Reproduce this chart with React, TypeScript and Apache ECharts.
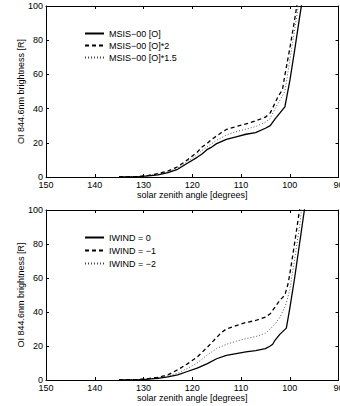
import React, { useEffect, useRef } from "react";
import * as echarts from "echarts";

const X_TICKS = { min: 90, max: 150, interval: 10 };
const Y_TICKS = { min: 0, max: 100, interval: 20 };

const topNames = ["MSIS−00 [O]", "MSIS−00 [O]*2", "MSIS−00 [O]*1.5"];
const bottomNames = ["IWIND = 0", "IWIND = −1", "IWIND = −2"];

// top panel: [solar zenith angle, brightness]
const topSolid: [number, number][] = [
  [135, 0], [131, 0.2], [129, 0.6], [127, 1.3], [125, 2.5], [123, 4.5], [121, 8], [119, 11.5],
  [118, 13.5], [117, 16], [116, 17.5], [115, 19.5], [113, 22], [111, 23.5], [109, 25], [107, 26],
  [105, 28.5], [104, 30], [103, 34], [102, 37.5], [101, 41], [100, 56], [99, 74], [98, 93], [97, 111],
];
const topDashed: [number, number][] = [
  [135, 0], [131, 0.3], [129, 0.9], [127, 2], [125, 3.5], [123, 6], [121, 10], [119, 14.5],
  [118, 17.5], [117, 19.5], [116, 22], [115, 24], [114, 26], [113, 27.8], [111, 29.5], [109, 31],
  [107, 32.8], [105, 35], [104, 37.5], [103.4, 41], [102.4, 47], [101.5, 51], [101, 59.5],
  [100, 75], [99, 92], [98.5, 101], [98, 110],
];
const topDotted: [number, number][] = [
  [135, 0], [131, 0.25], [129, 0.75], [127, 1.6], [125, 3], [123, 5.2], [121, 9], [119, 13],
  [118, 15.5], [117, 17.5], [116, 19.5], [115, 21.5], [113, 24.5], [111, 26.5], [109, 28],
  [107, 29.5], [105, 32], [104, 34.3], [103, 40], [102, 45], [101, 50], [100, 68], [99, 86],
  [98.3, 99], [98, 104],
];

// bottom panel
const botSolid: [number, number][] = [
  [135, 0], [131, 0.2], [129, 0.5], [127, 1], [125, 1.8], [123, 3], [121, 5], [119, 7],
  [117, 9.5], [115, 12.5], [113, 14.5], [111, 15.5], [109, 16.5], [107, 17.3], [105, 18.5],
  [104, 20], [103.5, 21], [103, 23.5], [102, 27], [100.7, 30.5], [100, 42], [99, 60], [98, 80],
  [97, 100], [96.5, 110],
];
const botDashed: [number, number][] = [
  [135, 0], [131, 0.3], [129, 0.8], [127, 1.6], [125, 3], [123, 6], [121, 9.5], [119, 13.5],
  [117, 19], [116, 22], [115, 25], [114, 28], [113, 30], [111, 32], [109, 33.8], [107, 35],
  [105, 37], [104, 39], [103, 43], [102, 47], [101, 50], [100.4, 56], [100, 62], [99, 80.5],
  [98, 100], [97.7, 106],
];
const botDotted: [number, number][] = [
  [135, 0], [131, 0.25], [129, 0.6], [127, 1.3], [125, 2.3], [123, 4], [121, 6.8], [119, 10],
  [117, 14.5], [115, 18.5], [113, 21], [111, 22.8], [109, 24.3], [107, 25.5], [105, 27.5],
  [104, 30], [103, 33], [102, 37], [101, 43], [100.7, 45.5], [100, 53], [99, 71], [98, 90],
  [97.6, 100], [97.3, 106],
];

const FONT = "Liberation Sans, Arial, Helvetica, sans-serif";
const XNAME = "solar zenith angle [degrees]";
const YNAME = "OI 844.6nm brightness [R]";

export default function App() {
  const ref = useRef<HTMLDivElement>(null);
  useEffect(() => {
    if (!ref.current) return;
    const chart = echarts.init(ref.current, undefined, { renderer: "svg" });
    const tick = { show: true, inside: true, length: 3, lineStyle: { color: "#000", width: 1 } };
    const line = { show: true, onZero: false, lineStyle: { color: "#000", width: 1 } };
    const lbl = { color: "#000", fontSize: 9, fontFamily: FONT };
    const mkX = (grid: number, main: boolean) => ({
      type: "value",
      gridIndex: grid,
      position: main ? "bottom" : "top",
      inverse: true,
      ...X_TICKS,
      axisLine: line,
      axisTick: tick,
      splitLine: { show: false },
      axisLabel: main ? { ...lbl, margin: 3, hideOverlap: false } : { show: false },
      name: main ? XNAME : "",
      nameLocation: "middle",
      nameGap: 13,
      nameTextStyle: { ...lbl },
    });
    const mkY = (grid: number, main: boolean) => ({
      type: "value",
      gridIndex: grid,
      position: main ? "left" : "right",
      ...Y_TICKS,
      axisLine: line,
      axisTick: tick,
      splitLine: { show: false },
      axisLabel: main ? { ...lbl, margin: 3 } : { show: false },
      name: main ? YNAME : "",
      nameLocation: "middle",
      nameGap: 21,
      nameMoveOverlap: false,
      nameTextStyle: { ...lbl },
    });
    const styles = [
      { color: "#000", width: 1.3, type: "solid" },
      { color: "#000", width: 1.3, type: [4, 3] },
      { color: "#444", width: 0.9, type: [1, 2] },
    ];
    const mkS = (name: string, data: [number, number][], grid: number, k: number) => ({
      type: "line",
      name,
      data,
      xAxisIndex: grid * 2,
      yAxisIndex: grid * 2,
      symbol: "none",
      showSymbol: false,
      lineStyle: styles[k],
      itemStyle: { color: styles[k].color },
      clip: true,
      z: 3 - k,
    });
    const legendBase = {
      orient: "vertical",
      left: 79,
      itemWidth: 19,
      itemHeight: 9,
      itemGap: 3,
      itemStyle: { color: "transparent", borderWidth: 0, opacity: 0 },
      textStyle: { ...lbl, color: "#000" },
      selectedMode: false,
    };
    const gridBase = { outerBoundsMode: "none", containLabel: false };
    chart.setOption({
      animation: false,
      grid: [
        { ...gridBase, left: 46, top: 6, width: 292.5, height: 171 },
        { ...gridBase, left: 46, top: 210, width: 292.5, height: 170 },
      ],
      xAxis: [mkX(0, true), mkX(0, false), mkX(1, true), mkX(1, false)],
      yAxis: [mkY(0, true), mkY(0, false), mkY(1, true), mkY(1, false)],
      legend: [
        { ...legendBase, top: 24, data: topNames },
        { ...legendBase, top: 228, data: bottomNames, itemGap: 4 },
      ],
      series: [
        mkS(topNames[0], topSolid, 0, 0),
        mkS(topNames[1], topDashed, 0, 1),
        mkS(topNames[2], topDotted, 0, 2),
        mkS(bottomNames[0], botSolid, 1, 0),
        mkS(bottomNames[1], botDashed, 1, 1),
        mkS(bottomNames[2], botDotted, 1, 2),
      ],
    });
    return () => chart.dispose();
  }, []);
  return (
    <div
      ref={ref}
      style={{ position: "fixed", left: 0, top: 0, width: 340, height: 406, background: "#fff" }}
    />
  );
}
